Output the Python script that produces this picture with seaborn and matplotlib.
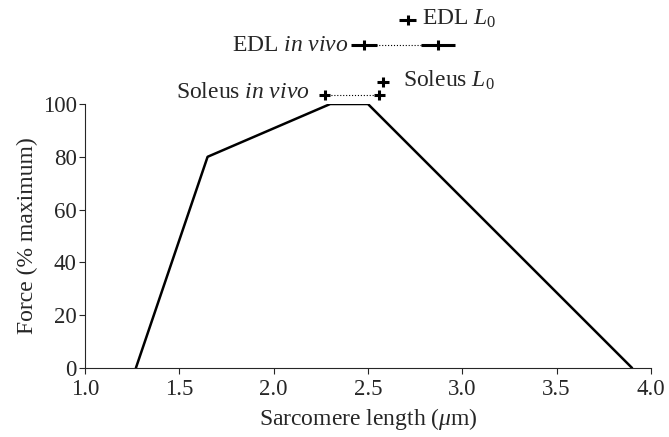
import pandas as pd
import seaborn as sns
import matplotlib.pyplot as plt

# force-length curve
sarc_len = [1.27, 1.65, 2.30, 2.50, 3.90]
force = [0, 80, 100, 100, 0]

# in vivo ranges (two ends each) and L0 points, with horizontal error
edl_vivo_x = [2.48, 2.87]
edl_vivo_y = [122.3, 122.3]
edl_vivo_xerr = [0.07, 0.09]
edl_l0_x = [2.71]
edl_l0_y = [131.8]
edl_l0_xerr = [0.045]

sol_vivo_x = [2.27, 2.56]
sol_vivo_y = [103.4, 103.4]
sol_vivo_xerr = [0.03, 0.03]
sol_l0_x = [2.58]
sol_l0_y = [108.3]
sol_l0_xerr = [0.03]

sns.set_style("ticks")
plt.rcParams['font.family'] = ['Liberation Serif', 'DejaVu Serif']
plt.rcParams['mathtext.fontset'] = 'custom'
plt.rcParams['mathtext.rm'] = 'Liberation Serif'
plt.rcParams['mathtext.it'] = 'Liberation Serif:italic'

fig = plt.figure(figsize=(6.69, 4.37), dpi=100)
ax = fig.add_axes([0.127, 0.158, 0.846, 0.604])

df = pd.DataFrame({'x': sarc_len, 'y': force})
sns.lineplot(data=df, x='x', y='y', color='black', linewidth=1.8, ax=ax)

# dotted connectors
ax.plot(edl_vivo_x, edl_vivo_y, ':', color='black', lw=0.8, clip_on=False, zorder=2)
ax.plot(sol_vivo_x, sol_vivo_y, ':', color='black', lw=0.8, clip_on=False, zorder=2)

for xs, ys, xe in [(edl_vivo_x, edl_vivo_y, edl_vivo_xerr),
                   (edl_l0_x, edl_l0_y, edl_l0_xerr),
                   (sol_vivo_x, sol_vivo_y, sol_vivo_xerr),
                   (sol_l0_x, sol_l0_y, sol_l0_xerr)]:
    eb = ax.errorbar(xs, ys, xerr=xe, yerr=2.0, fmt='none', ecolor='black',
                     elinewidth=2.2, capsize=0, zorder=3)
    for art in eb.lines[2]:
        art.set_clip_on(False)

fs = 17
ax.annotate(r'EDL $\mathit{in\ vivo}$', (edl_vivo_x[0] - edl_vivo_xerr[0], edl_vivo_y[0]),
            xytext=(-2, 0), textcoords='offset points', ha='right', va='center',
            fontsize=fs, annotation_clip=False)
ax.annotate(r'EDL $\mathit{L}_{\mathrm{0}}$', (edl_l0_x[0] + edl_l0_xerr[0], edl_l0_y[0]),
            xytext=(4, 1), textcoords='offset points', ha='left', va='center',
            fontsize=fs, annotation_clip=False)
ax.annotate(r'Soleus $\mathit{in\ vivo}$', (sol_vivo_x[0] - sol_vivo_xerr[0], sol_vivo_y[0]),
            xytext=(-7, 2), textcoords='offset points', ha='right', va='center',
            fontsize=fs, annotation_clip=False)
ax.annotate(r'Soleus $\mathit{L}_{\mathrm{0}}$', (sol_l0_x[0] + sol_l0_xerr[0], sol_l0_y[0]),
            xytext=(10, 1), textcoords='offset points', ha='left', va='center',
            fontsize=fs, annotation_clip=False)

ax.set_xlim(1.0, 4.0)
ax.set_ylim(0, 100)
ax.set_xticks([1.0, 1.5, 2.0, 2.5, 3.0, 3.5, 4.0])
ax.set_xticklabels(['1.0', '1.5', '2.0', '2.5', '3.0', '3.5', '4.0'])
ax.set_yticks([0, 20, 40, 60, 80, 100])
ax.tick_params(labelsize=16.5, length=4, width=0.8, direction='out')
ax.tick_params(axis='x', pad=4)
ax.tick_params(axis='y', pad=2)
ax.set_xlabel(r'Sarcomere length ($\mu$m)', fontsize=fs, labelpad=4)
ax.set_ylabel('Force (% maximum)', fontsize=fs, labelpad=3)
for s in ['left', 'bottom']:
    ax.spines[s].set_linewidth(0.8)
sns.despine(ax=ax)

fig.savefig('out.png', dpi=100)
